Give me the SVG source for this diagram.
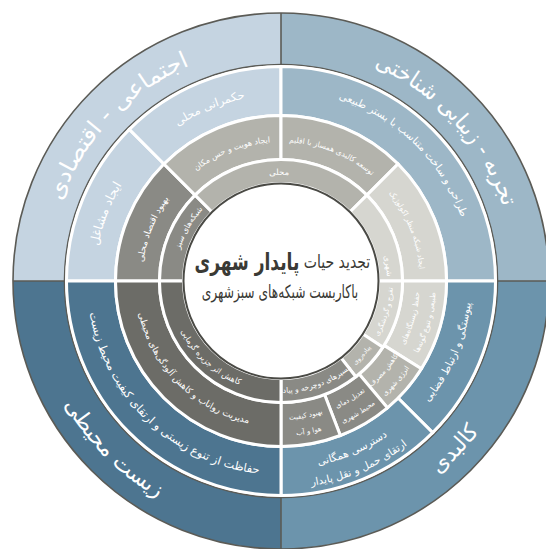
<svg xmlns="http://www.w3.org/2000/svg" width="546" height="549" viewBox="0 0 546 549">
<style>
.s{stroke:#fff;stroke-width:3;stroke-linejoin:miter}
.tl{fill:#c5d4e1}.tr{fill:#9db7c7}.bl{fill:#4d7590}.br{fill:#6c94ac}
.g1{fill:#6c6c67}.g2{fill:#8a8a85}.g3{fill:#b3b3ac}.g4{fill:#d6d6d0}
.w{fill:#fff;font-family:"DejaVu Sans","Noto Sans",sans-serif;text-anchor:middle}
.dk{stroke:#5b5b56;stroke-width:1.6;fill:none}
.ct{fill:#3a3a35;font-family:"DejaVu Sans","Noto Sans",sans-serif;text-anchor:middle}
</style>
<defs>
<path id="t234" d="M78.36,164 A234,234 0 0 1 483.64,164"/>
<path id="t186" d="M119.92,188 A186,186 0 0 1 442.08,188"/>
<path id="t191" d="M115.59,185.5 A191,191 0 0 1 446.41,185.5"/>
<path id="t139" d="M160.63,211.5 A139,139 0 0 1 401.37,211.5"/>
<path id="t106" d="M189.2,228 A106,106 0 0 1 372.8,228"/>
<path id="b249" d="M65.37,405.5 A249,249 0 0 0 496.63,405.5"/>
<path id="b194" d="M113,378 A194,194 0 0 0 449,378"/>
<path id="b188" d="M118.19,375 A188,188 0 0 0 443.81,375"/>
<path id="b207" d="M101.74,384.5 A207,207 0 0 0 460.26,384.5"/>
<path id="b191" d="M115.59,376.5 A191,191 0 0 0 446.41,376.5"/>
<path id="b146" d="M154.56,354 A146,146 0 0 0 407.44,354"/>
<path id="b139" d="M160.63,350.5 A139,139 0 0 0 401.37,350.5"/>
<path id="b155" d="M146.77,358.5 A155,155 0 0 0 415.23,358.5"/>
<path id="b112" d="M184.01,337 A112,112 0 0 0 377.99,337"/>
</defs>
<rect width="546" height="549" fill="#fff"/>

<g id="outer-social-economic">
<path class="tl" d="M13,281 A268,268 0 0 1 281,13 L281,64.5 A216.5,216.5 0 0 0 64.5,281 Z"/>
<text class="w" font-size="23" transform="rotate(-46.5 281 281)"><textPath href="#t234" startOffset="50%" textLength="192" lengthAdjust="spacingAndGlyphs">اجتماعی - اقتصادی</textPath></text>
</g>
<g id="outer-aesthetic">
<path class="tr" d="M281,13 A268,268 0 0 1 549,281 L497.5,281 A216.5,216.5 0 0 0 281,64.5 Z"/>
<text class="w" font-size="23" transform="rotate(47.5 281 281)"><textPath href="#t234" startOffset="50%" textLength="196" lengthAdjust="spacingAndGlyphs">تجربه - زیبایی شناختی</textPath></text>
</g>
<g id="outer-physical">
<path class="br" d="M549,281 A268,268 0 0 1 281,549 L281,497.5 A216.5,216.5 0 0 0 497.5,281 Z"/>
<text class="w" font-size="22" transform="rotate(-46 281 281)"><textPath href="#b249" startOffset="50%">کالبدی</textPath></text>
</g>
<g id="outer-environmental">
<path class="bl" d="M281,549 A268,268 0 0 1 13,281 L64.5,281 A216.5,216.5 0 0 0 281,497.5 Z"/>
<text class="w" font-size="22" transform="rotate(45 281 281)"><textPath href="#b249" startOffset="50%">زیست محیطی</textPath></text>
</g>

<g id="outlines">
<circle class="dk" cx="281" cy="281" r="268"/>
<circle class="dk" cx="281" cy="281" r="216.5" stroke-width="1.4"/>
<path class="dk" d="M281,13 V64.5 M281,497.5 V549 M13,281 H64.5 M497.5,281 H549"/>
</g>

<g id="r3-jobs">
<path class="s tl" d="M66.5,281 A214.5,214.5 0 0 1 129.33,129.33 L163.97,163.97 A165.5,165.5 0 0 0 115.5,281 Z"/>
<text class="w" font-size="12.5" transform="rotate(-69 281 281)"><textPath href="#t186" startOffset="50%">ایجاد مشاغل</textPath></text>
</g>
<g id="r3-governance">
<path class="s tl" d="M129.33,129.33 A214.5,214.5 0 0 1 281,66.5 L281,115.5 A165.5,165.5 0 0 0 163.97,163.97 Z"/>
<text class="w" font-size="11.5" transform="rotate(-22.4 281 281)"><textPath href="#t186" startOffset="50%">حکمرانی محلی</textPath></text>
</g>
<g id="r3-design">
<path class="s tr" d="M281,66.5 A214.5,214.5 0 0 1 495.5,281 L446.5,281 A165.5,165.5 0 0 0 281,115.5 Z"/>
<text class="w" font-size="10.5" transform="rotate(44 281 281)"><textPath href="#t191" startOffset="50%">طراحی و ساخت متناسب با بستر طبیعی</textPath></text>
</g>
<g id="r3-continuity">
<path class="s br" d="M495.5,281 A214.5,214.5 0 0 1 432.67,432.67 L398.03,398.03 A165.5,165.5 0 0 0 446.5,281 Z"/>
<text class="w" font-size="10.5" transform="rotate(-67 281 281)"><textPath href="#b191" startOffset="50%">پیوستگی و ارتباط فضایی</textPath></text>
</g>
<g id="r3-access">
<path class="s br" d="M432.67,432.67 A214.5,214.5 0 0 1 281,495.5 L281,446.5 A165.5,165.5 0 0 0 398.03,398.03 Z"/>
<text class="w" font-size="10.5" transform="rotate(-23 281 281)"><textPath href="#b188" startOffset="50%">دسترسی همگانی</textPath></text>
<text class="w" font-size="10.5" transform="rotate(-23 281 281)"><textPath href="#b207" startOffset="50%">ارتقای حمل و نقل پایدار</textPath></text>
</g>
<g id="r3-biodiversity">
<path class="s bl" d="M281,495.5 A214.5,214.5 0 0 1 66.5,281 L115.5,281 A165.5,165.5 0 0 0 281,446.5 Z"/>
<text class="w" font-size="11.5" transform="rotate(43.5 281 281)"><textPath href="#b194" startOffset="50%">حفاظت از تنوع زیستی و ارتقای کیفیت محیط زیست</textPath></text>
</g>

<g id="r2-local-economy">
<path class="s g2" d="M115.5,281 A165.5,165.5 0 0 1 163.97,163.97 L195.09,195.09 A121.5,121.5 0 0 0 159.5,281 Z"/>
<text class="w" font-size="9" transform="rotate(-68 281 281)"><textPath href="#t139" startOffset="50%">بهبود اقتصاد محلی</textPath></text>
</g>
<g id="r2-identity">
<path class="s g3" d="M163.97,163.97 A165.5,165.5 0 0 1 281,115.5 L281,159.5 A121.5,121.5 0 0 0 195.09,195.09 Z"/>
<text class="w" font-size="8" transform="rotate(-21 281 281)"><textPath href="#t139" startOffset="50%">ایجاد هویت و حس مکان</textPath></text>
</g>
<g id="r2-climate">
<path class="s g3" d="M281,115.5 A165.5,165.5 0 0 1 398.03,163.97 L366.91,195.09 A121.5,121.5 0 0 0 281,159.5 Z"/>
<text class="w" font-size="7.5" transform="rotate(22 281 281)"><textPath href="#t139" startOffset="50%">توسعه کالبدی همساز با اقلیم</textPath></text>
</g>
<g id="r2-landscape">
<path class="s g4" d="M398.03,163.97 A165.5,165.5 0 0 1 446.5,281 L402.5,281 A121.5,121.5 0 0 0 366.91,195.09 Z"/>
<text class="w" font-size="7.5" transform="rotate(68 281 281)"><textPath href="#t139" startOffset="50%">ایجاد شبکه منظر اکولوژیک</textPath></text>
</g>
<g id="r2-habitat">
<path class="s g4" d="M446.5,281 A165.5,165.5 0 0 1 421.35,368.7 L384.04,345.39 A121.5,121.5 0 0 0 402.5,281 Z"/>
<text class="w" font-size="7.5" transform="rotate(-74 281 281)"><textPath href="#b139" startOffset="50%">حفظ زیستگاه‌های</textPath></text>
<text class="w" font-size="7.5" transform="rotate(-74 281 281)"><textPath href="#b155" startOffset="50%">طبیعی و تنوع گونه‌ها</textPath></text>
</g>
<g id="r2-energy">
<path class="s g3" d="M421.35,368.7 A165.5,165.5 0 0 1 387.38,407.78 L359.1,374.07 A121.5,121.5 0 0 0 384.04,345.39 Z"/>
<text class="w" font-size="7" transform="rotate(-49 281 281)"><textPath href="#b139" startOffset="50%">کاهش مصرف</textPath></text>
<text class="w" font-size="7" transform="rotate(-49 281 281)"><textPath href="#b155" startOffset="50%">انرژی شهری</textPath></text>
</g>
<g id="r2-temperature">
<path class="s g2" d="M387.38,407.78 A165.5,165.5 0 0 1 340.31,435.51 L324.54,394.43 A121.5,121.5 0 0 0 359.1,374.07 Z"/>
<text class="w" font-size="7" transform="rotate(-30.5 281 281)"><textPath href="#b139" startOffset="50%">تعدیل دمای</textPath></text>
<text class="w" font-size="7" transform="rotate(-30.5 281 281)"><textPath href="#b155" startOffset="50%">محیط شهری</textPath></text>
</g>
<g id="r2-air">
<path class="s g2" d="M340.31,435.51 A165.5,165.5 0 0 1 281,446.5 L281,402.5 A121.5,121.5 0 0 0 324.54,394.43 Z"/>
<text class="w" font-size="7" transform="rotate(-10.5 281 281)"><textPath href="#b139" startOffset="50%">بهبود کیفیت</textPath></text>
<text class="w" font-size="7" transform="rotate(-10.5 281 281)"><textPath href="#b155" startOffset="50%">هوا و آب</textPath></text>
</g>
<g id="r2-runoff">
<path class="s g1" d="M281,446.5 A165.5,165.5 0 0 1 115.5,281 L159.5,281 A121.5,121.5 0 0 0 281,402.5 Z"/>
<text class="w" font-size="9" transform="rotate(45 281 281)"><textPath href="#b146" startOffset="50%">مدیریت رواناب و کاهش آلودگی‌های محیطی</textPath></text>
</g>

<g id="r1-green-networks">
<path class="s g2" d="M159.5,281 A121.5,121.5 0 0 1 195.09,195.09 L212.06,212.06 A97.5,97.5 0 0 0 183.5,281 Z"/>
<text class="w" font-size="8" transform="rotate(-60 281 281)"><textPath href="#t106" startOffset="50%">شبکه‌های سبز</textPath></text>
</g>
<g id="r1-local">
<path class="s g3" d="M195.09,195.09 A121.5,121.5 0 0 1 366.91,195.09 L349.94,212.06 A97.5,97.5 0 0 0 212.06,212.06 Z"/>
<text class="w" font-size="8.5" transform="rotate(-1 281 281)"><textPath href="#t106" startOffset="50%">محلی</textPath></text>
</g>
<g id="r1-urban">
<path class="s g4" d="M366.91,195.09 A121.5,121.5 0 0 1 402.5,281 L378.5,281 A97.5,97.5 0 0 0 349.94,212.06 Z"/>
<text class="w" font-size="8" transform="rotate(82 281 281)"><textPath href="#t106" startOffset="50%">شهری</textPath></text>
</g>
<g id="r1-recreation">
<path class="s g4" d="M402.5,281 A121.5,121.5 0 0 1 382.9,347.17 L362.77,334.1 A97.5,97.5 0 0 0 378.5,281 Z"/>
<text class="w" font-size="7" transform="rotate(-73.5 281 281)"><textPath href="#b112" startOffset="50%">تفرج و گردشگری</textPath></text>
</g>
<g id="r1-walking">
<path class="s g3" d="M382.9,347.17 A121.5,121.5 0 0 1 355.8,376.74 L341.03,357.83 A97.5,97.5 0 0 0 362.77,334.1 Z"/>
<text class="w" font-size="6.5" transform="rotate(-47.5 281 281)"><textPath href="#b112" startOffset="50%">پیاده‌روی</textPath></text>
</g>
<g id="r1-paths">
<path class="s g2" d="M355.8,376.74 A121.5,121.5 0 0 1 281,402.5 L281,378.5 A97.5,97.5 0 0 0 341.03,357.83 Z"/>
<text class="w" font-size="7.5" transform="rotate(-19 281 281)"><textPath href="#b112" startOffset="50%">مسیرهای دوچرخه و پیاده</textPath></text>
</g>
<g id="r1-heat-island">
<path class="s g1" d="M281,402.5 A121.5,121.5 0 0 1 159.5,281 L183.5,281 A97.5,97.5 0 0 0 281,378.5 Z"/>
<text class="w" font-size="8" transform="rotate(42.5 281 281)"><textPath href="#b112" startOffset="50%">کاهش اثر جزیره گرمایی</textPath></text>
</g>

<g id="center">
<circle cx="281" cy="281" r="97.5" fill="#fff" stroke="#4a4a45" stroke-width="2"/>
<text class="ct" font-size="18" transform="translate(337,268) scale(0.78,1)">تجدید حیات</text>
<text class="ct" font-size="24" font-weight="bold" transform="translate(247,270) scale(0.71,1)">پایدار شهری</text>
<text class="ct" font-size="18" transform="translate(280,298) scale(0.68,1)">باکاربست شبکه‌های سبزشهری</text>
</g>
</svg>
